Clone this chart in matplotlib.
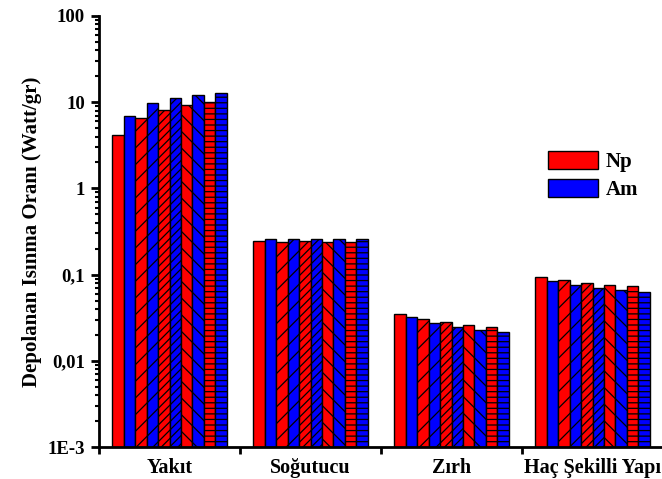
import matplotlib
matplotlib.use("Agg")
import matplotlib.pyplot as plt
import numpy as np
from matplotlib.ticker import FixedLocator, LogLocator, NullFormatter

categories = ["Yakıt", "Soğutucu", "Zırh", "Haç Şekilli Yapı"]
# five Np / Am bar pairs per category (different hatches)
np_values = [
    [4.17, 6.56, 8.06, 9.27, 10.1],
    [0.243, 0.241, 0.243, 0.239, 0.239],
    [0.0352, 0.0308, 0.0282, 0.0262, 0.0249],
    [0.0946, 0.0865, 0.080, 0.0764, 0.0738],
]
am_values = [
    [6.97, 9.7, 11.1, 12.2, 12.9],
    [0.259, 0.259, 0.261, 0.259, 0.261],
    [0.0319, 0.0272, 0.0245, 0.0229, 0.0218],
    [0.0850, 0.0764, 0.070, 0.0662, 0.0634],
]
hatches = ["", "//", "////", "\\\\", "---"]
ytick_vals = [1e-3, 1e-2, 1e-1, 1, 10, 100]
ytick_labels = ["1E-3", "0,01", "0,1", "1", "10", "100"]

plt.rcParams['font.family'] = ['Liberation Serif', 'DejaVu Serif']
plt.rcParams['font.weight'] = 'bold'
plt.rcParams['hatch.linewidth'] = 0.9

fig = plt.figure(figsize=(6.62, 4.79), dpi=100)
ax = fig.add_axes([99/662, 1 - 447/479, 564/662, (447 - 16)/479])

w = 0.081
x = np.arange(len(categories))
for k in range(5):
    off_np = (-4.5 + 2*k) * w
    off_am = (-3.5 + 2*k) * w
    ax.bar(x + off_np, [v[k] for v in np_values], width=w, color="#FF0000",
           edgecolor="black", linewidth=1.0, hatch=hatches[k],
           label="Np" if k == 0 else None, zorder=2)
    ax.bar(x + off_am, [v[k] for v in am_values], width=w, color="#0000FF",
           edgecolor="black", linewidth=1.0, hatch=hatches[k],
           label="Am" if k == 0 else None, zorder=2)

ax.set_yscale("log")
ax.set_ylim(1e-3, 100)
ax.set_xlim(-0.5, 3.5)
ax.yaxis.set_major_locator(FixedLocator(ytick_vals))
ax.set_yticklabels(ytick_labels, fontsize=13.5, fontweight='bold')
ax.yaxis.set_minor_locator(LogLocator(base=10, subs=np.arange(2, 10)))
ax.yaxis.set_minor_formatter(NullFormatter())
ax.tick_params(axis='y', which='major', direction='out', length=6, width=2, pad=4)
ax.tick_params(axis='y', which='minor', direction='out', length=3, width=1.5)

# x: labels at centres, tick marks between groups
ax.set_xticks([-0.5, 0.5, 1.5, 2.5])
ax.set_xticklabels([])
ax.tick_params(axis='x', which='major', direction='out', length=5, width=2)
ax.set_xticks(x, minor=True)
ax.set_xticklabels(categories, minor=True, fontsize=14.5, fontweight='bold')
ax.tick_params(axis='x', which='minor', direction='in', length=3, width=1, pad=8)

for s in ['top', 'right']:
    ax.spines[s].set_visible(False)
for s in ['left', 'bottom']:
    ax.spines[s].set_linewidth(2)

ax.set_ylabel("Depolanan Isınma Oranı (Watt/gr)", fontsize=15, fontweight='bold', labelpad=4)

leg = ax.legend(loc='upper left', bbox_to_anchor=(0.782, 0.707), frameon=False,
                fontsize=15, handlelength=2.4, handleheight=0.95,
                labelspacing=0.35, handletextpad=0.35, borderaxespad=0)

fig.savefig("out.png", dpi=100)
